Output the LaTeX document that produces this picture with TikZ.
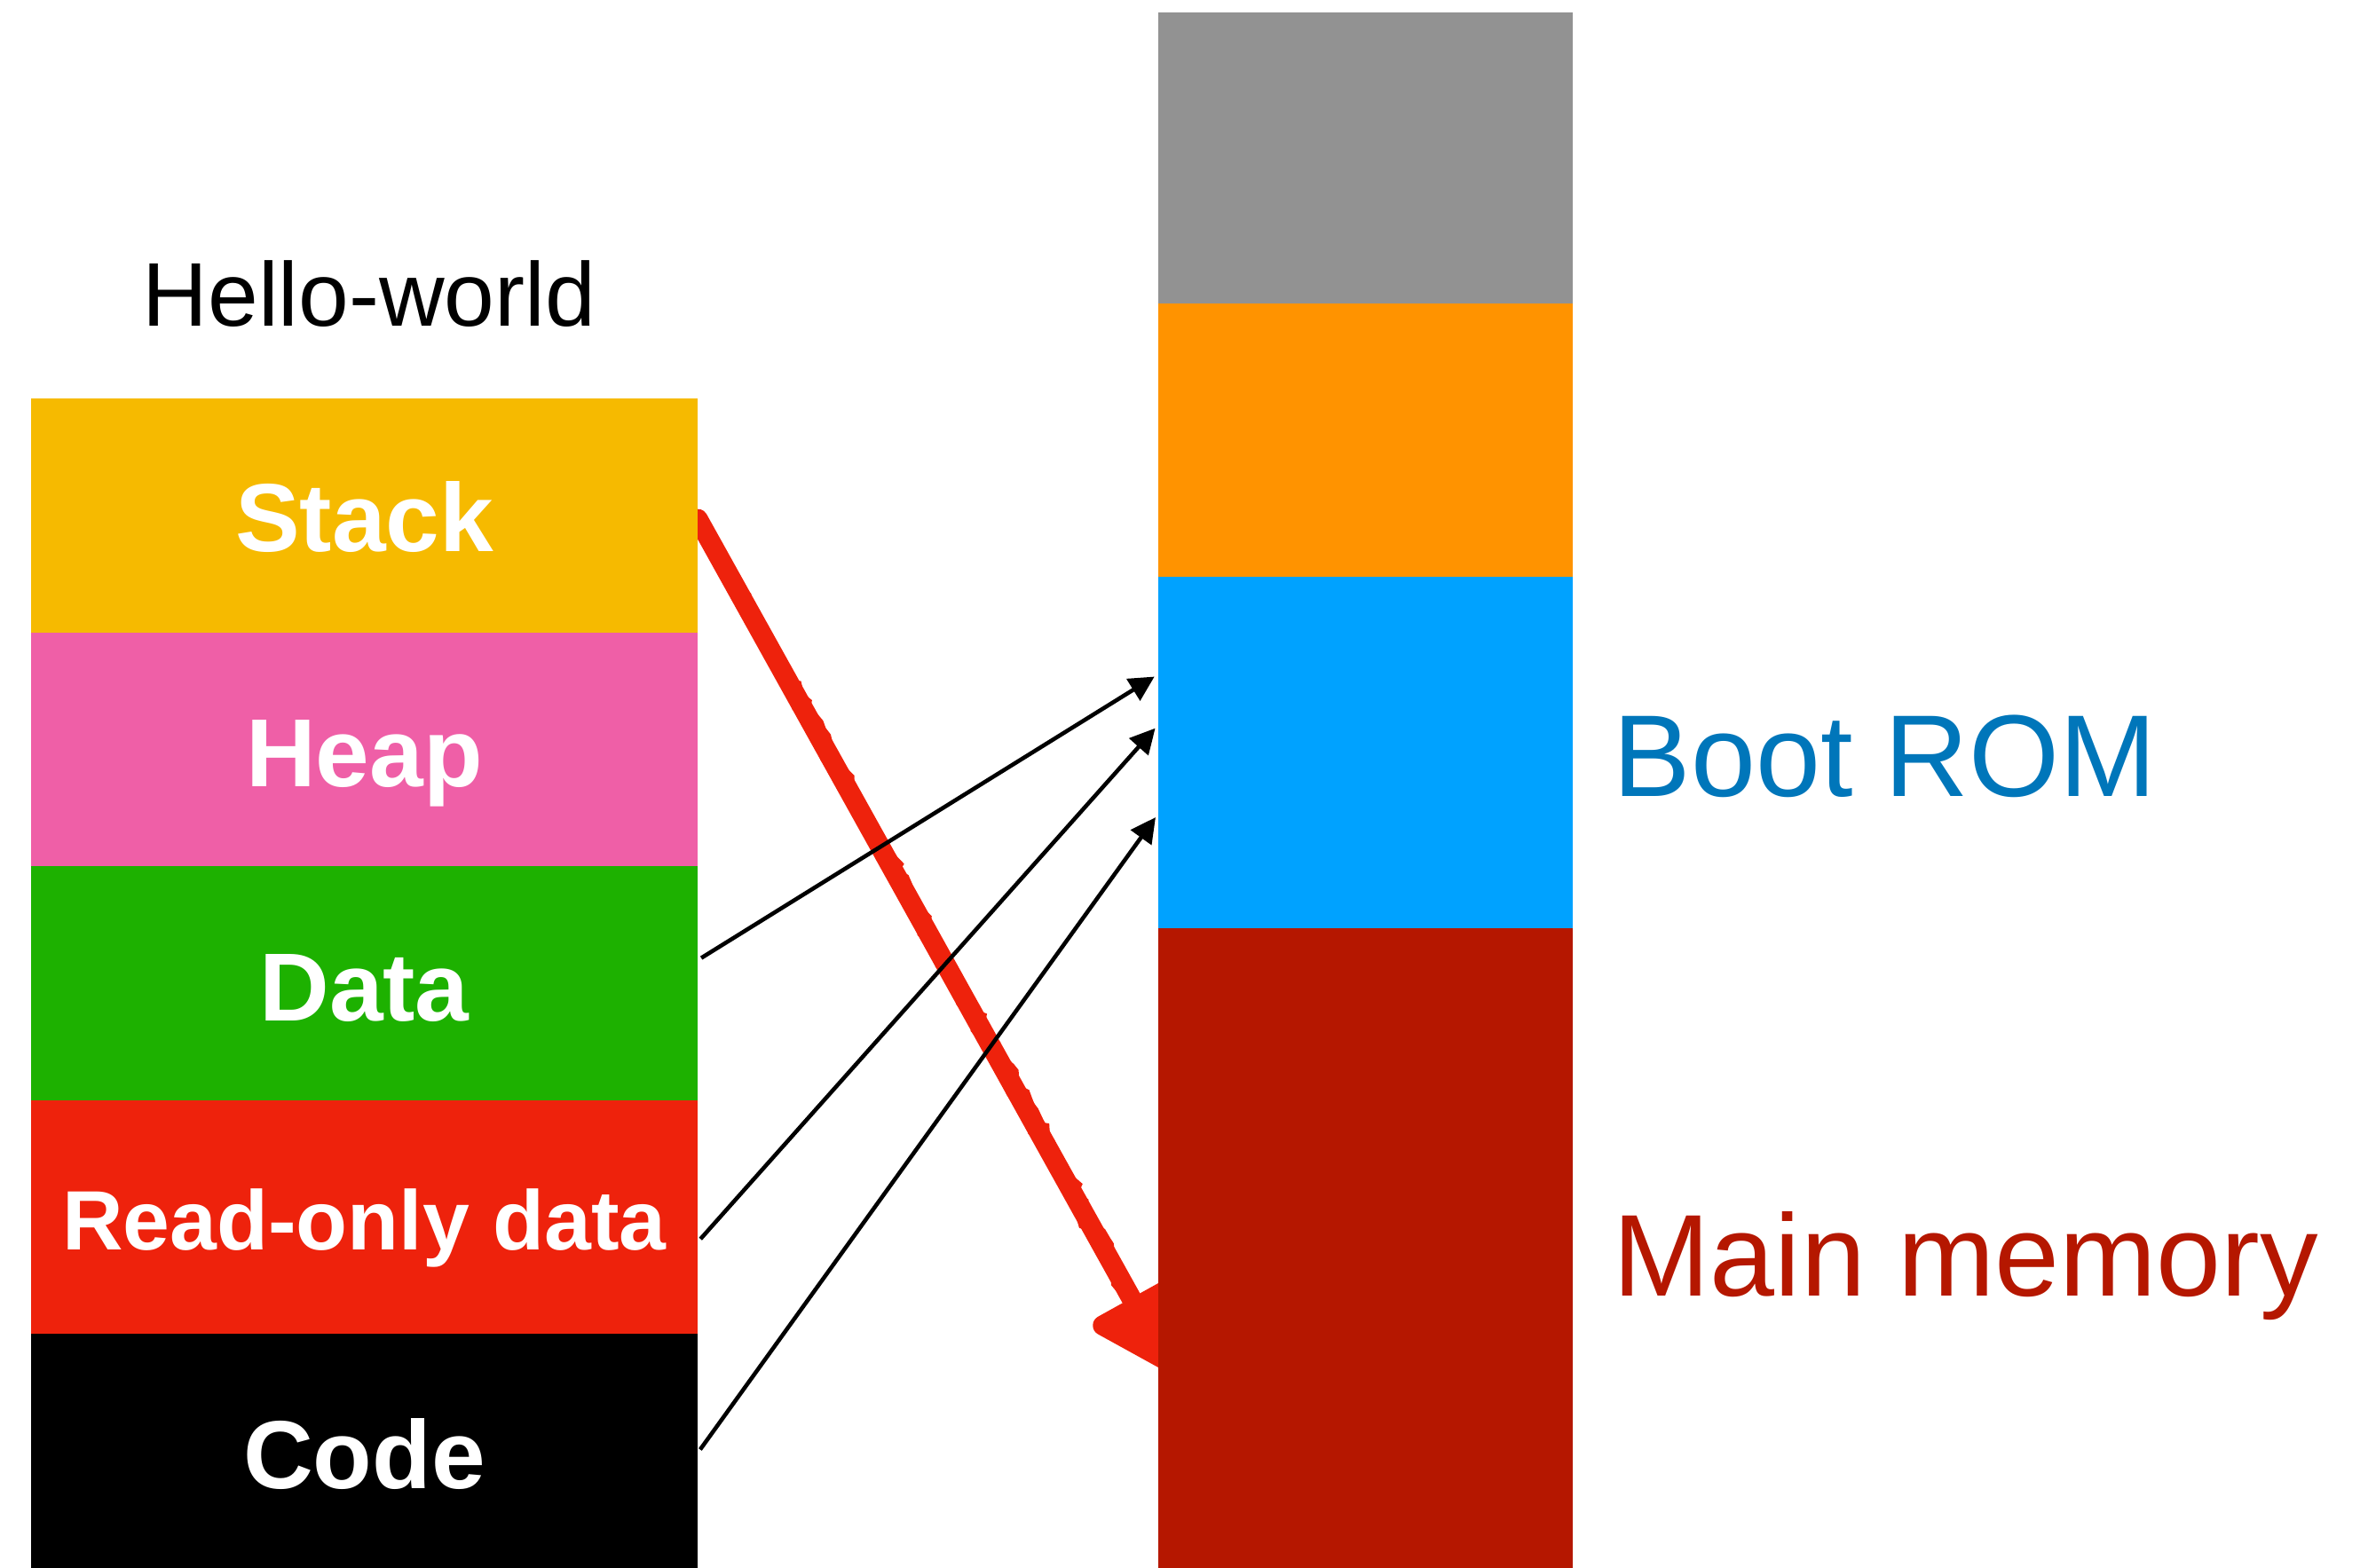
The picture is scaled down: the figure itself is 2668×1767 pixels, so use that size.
\documentclass[tikz,border=0pt]{standalone}
\usepackage{fontspec}
\setmainfont{Liberation Sans}
\usetikzlibrary{arrows.meta,backgrounds,decorations.pathmorphing}

% segment colours
\definecolor{stackc}{HTML}{F6BA00}
\definecolor{heapc}{HTML}{EF5FA7}
\definecolor{datac}{HTML}{1DB100}
\definecolor{rodatac}{HTML}{EE220C}
\definecolor{codec}{HTML}{000000}
\definecolor{topc}{HTML}{929292}
\definecolor{midc}{HTML}{FF9300}
\definecolor{romc}{HTML}{00A2FF}
\definecolor{ramc}{HTML}{B51700}
\definecolor{romtext}{HTML}{0076BA}
\definecolor{penc}{HTML}{EE220C}

\begin{document}
\begin{tikzpicture}[x=0.01cm,y=-0.01cm,
  lseg/.style={draw=none,inner sep=0pt,outer sep=0pt,minimum width=7.51cm},
  rseg/.style={draw=none,inner sep=0pt,outer sep=0pt,minimum width=4.67cm},
  seglabel/.style={anchor=base,text=white,inner sep=0pt,font=\bfseries\fontsize{31pt}{31pt}\selectfont},
  bigtag/.style={anchor=base west,inner sep=0pt,font=\fontsize{37.3pt}{37.3pt}\selectfont},
  link/.style={line width=1.3pt,-{Triangle[length=8pt,width=8pt]},shorten <=1.3pt,shorten >=1.4pt},
  penstroke/.style={draw=penc,line width=6.4pt,line cap=round,line join=round},
  penrough/.style={draw=penc,line width=2pt,line cap=round,decorate,
    decoration={random steps,segment length=2.5pt,amplitude=1.2pt}}]

\useasboundingbox (0,0) rectangle (2668,1767);

% program image
\node[anchor=base,inner sep=0pt,font=\fontsize{29pt}{29pt}\selectfont] (title) at (416,368) {Hello-world};
\node[lseg,fill=stackc,minimum height=2.636cm]  (stack)  at (410.5,580.8)  {};
\node[lseg,fill=heapc,minimum height=2.636cm]   (heap)   at (410.5,844.4)  {};
\node[lseg,fill=datac,minimum height=2.636cm]   (data)   at (410.5,1108)   {};
\node[lseg,fill=rodatac,minimum height=2.636cm] (rodata) at (410.5,1371.6) {};
\node[lseg,fill=codec,minimum height=2.636cm]   (code)   at (410.5,1635.2) {};

\node[seglabel] (stackl)  at ([yshift=-0.41cm]stack.center)  {Stack};
\node[seglabel] (heapl)   at ([yshift=-0.42cm]heap.center)   {Heap};
\node[seglabel] (datal)   at ([yshift=-0.42cm]data.center)   {Data};
\node[seglabel,font=\bfseries\fontsize{27pt}{27pt}\selectfont] (rodatal) at ([yshift=-0.37cm]rodata.center) {Read-only data};
\node[seglabel] (codel)   at ([yshift=-0.42cm]code.center)   {Code};

% physical address space
\node[rseg,fill=topc,minimum height=3.28cm] (top) at (1538.5,178)    {};
\node[rseg,fill=midc,minimum height=3.08cm] (mid) at (1538.5,496)    {};
\node[rseg,fill=romc,minimum height=3.96cm] (rom) at (1538.5,848)    {};
\node[rseg,fill=ramc,minimum height=7.21cm] (ram) at (1538.5,1406.5) {};

\node[bigtag,text=romtext] (romtag) at (1817,898)  {Boot ROM};
\node[bigtag,text=ramc]    (ramtag) at (1817,1460) {Main memory};

% segments placed in the boot ROM
\draw[link] ([yshift=0.26cm]data.east)    -- ([yshift=0.88cm]rom.west);
\draw[link] ([yshift=-0.28cm]rodata.east) -- ([yshift=0.31cm]rom.west);
\draw[link] ([yshift=-0.02cm]code.east)   -- ([yshift=-0.69cm]rom.west);

% the stack goes to main memory (hand-drawn stroke, under the memory column)
\coordinate (pentip)  at ([xshift=0.14cm,yshift=-1.36cm]ram.west);
\coordinate (penbase) at ([xshift=-0.48cm,yshift=0.88cm]pentip);
\begin{scope}[on background layer]
  \draw[penstroke,-{Triangle[length=1.02cm,width=1.2cm,round]},fill=penc]
    ([yshift=-0.04cm]stack.east) -- (pentip);
  \draw[penrough] ([xshift=0.05cm,yshift=-0.02cm]stack.east) -- ([xshift=0.05cm,yshift=0.03cm]penbase);
  \draw[penrough] ([xshift=-0.01cm,yshift=-0.08cm]stack.east) -- ([xshift=-0.05cm,yshift=-0.03cm]penbase);
\end{scope}
\end{tikzpicture}
\end{document}
